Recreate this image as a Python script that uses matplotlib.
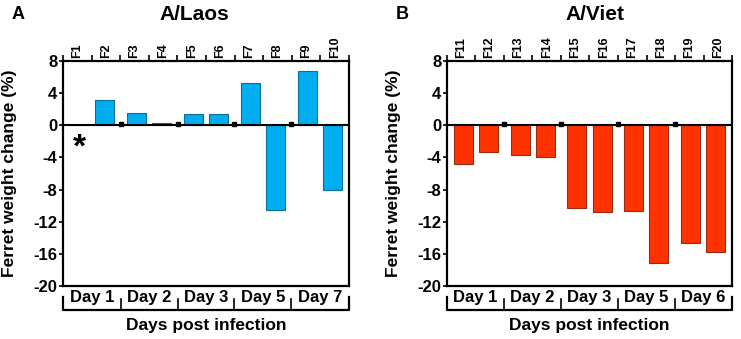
import numpy as np
import matplotlib
matplotlib.use('Agg')
import matplotlib.pyplot as plt
import matplotlib.transforms as mtrans

plt.rcParams['font.family'] = ['Liberation Sans', 'DejaVu Sans']
plt.rcParams['font.weight'] = 'bold'

laos_ferrets = ['F1', 'F2', 'F3', 'F4', 'F5', 'F6', 'F7', 'F8', 'F9', 'F10']
laos_change = [0.0, 3.1, 1.55, 0.3, 1.45, 1.4, 5.3, -10.5, 6.7, -8.0]
laos_days = ['Day 1', 'Day 2', 'Day 3', 'Day 5', 'Day 7']

viet_ferrets = ['F11', 'F12', 'F13', 'F14', 'F15', 'F16', 'F17', 'F18', 'F19', 'F20']
viet_change = [-4.75, -3.3, -3.75, -4.0, -10.3, -10.8, -10.7, -17.1, -14.6, -15.75]
viet_days = ['Day 1', 'Day 2', 'Day 3', 'Day 5', 'Day 6']

yticks = [8, 4, 0, -4, -8, -12, -16, -20]

fig = plt.figure(figsize=(7.41, 3.39), dpi=100)
axA = fig.add_axes([0.085, 0.156, 0.386, 0.664])
axB = fig.add_axes([0.603, 0.156, 0.385, 0.664])

pair_step = 2.25


def draw_panel(ax, names, values, days, color, edge, letter, title, title_x):
    n = len(values)
    pos = np.array([pair_step * (i // 2) + (i % 2) for i in range(n)])
    lo, hi = pos[0] - 0.65, pos[-1] + 0.65
    ax.bar(pos, values, width=0.75, color=color, edgecolor=edge, linewidth=0.8, zorder=2)
    # small dots on the zero line between days
    gaps = pos[1:-1:2] + (pair_step - 1) / 2
    ax.plot(gaps, np.zeros_like(gaps) + 0.15, 's', color='black', ms=2.5, zorder=3)
    ax.axhline(0, color='black', lw=1.5, zorder=3)
    ax.set_xlim(lo, hi)
    ax.set_ylim(-20, 8)
    ax.set_yticks(yticks)
    ax.set_yticklabels([str(t) for t in yticks], fontsize=12, fontweight='bold')
    ax.tick_params(axis='y', length=3, width=1.2, pad=1)
    ax.set_xticks([])
    for s in ax.spines.values():
        s.set_linewidth(1.6)
    ax.set_ylabel('Ferret weight change (%)', fontsize=12.5, fontweight='bold', labelpad=4)
    ax.yaxis.set_label_coords(-0.16, 0.5)

    # top axis: evenly spaced animal labels
    top = ax.twiny()
    top.set_xlim(0, n)
    top.set_xticks(np.arange(n + 1))
    top.set_xticklabels([])
    top.set_xticks(np.arange(n) + 0.5, minor=True)
    top.set_xticklabels(names, minor=True, rotation=90, fontsize=9, fontweight='bold')
    top.tick_params(axis='x', which='major', length=4, width=1.2)
    top.tick_params(axis='x', which='minor', length=0, pad=2)
    for s in top.spines.values():
        s.set_visible(False)

    # bottom day brackets
    tr = mtrans.blended_transform_factory(ax.transData, ax.transAxes)
    bounds = np.concatenate([[lo], gaps, [hi]])
    for k, d in enumerate(days):
        ax.text((bounds[k] + bounds[k + 1]) / 2, -0.05, d, transform=tr, ha='center',
                va='center', fontsize=12, fontweight='bold')
    for b in bounds[1:-1]:
        ax.plot([b, b], [-0.058, -0.105], transform=tr, color='black', lw=1.2, clip_on=False)
    ax.plot([lo, lo, hi, hi], [-0.05, -0.107, -0.107, -0.05], transform=tr, color='black',
            lw=1.6, clip_on=False)
    ax.text(0.5, -0.175, 'Days post infection', transform=ax.transAxes, ha='center',
            va='center', fontsize=12.5, fontweight='bold')
    ax.text(title_x, 1.205, title, transform=ax.transAxes, ha='center', va='center',
            fontsize=15, fontweight='bold')
    ax.text(-0.157, 1.205, letter, transform=ax.transAxes, ha='center', va='center',
            fontsize=13, fontweight='bold')
    return pos


posA = draw_panel(axA, laos_ferrets, laos_change, laos_days, '#00AEEF', '#0A6E9A', 'A', 'A/Laos', 0.46)
axA.text(posA[0], -2.8, '*', ha='center', va='center', fontsize=24, fontweight='bold')
draw_panel(axB, viet_ferrets, viet_change, viet_days, '#FF3300', '#9A2A10', 'B', 'A/Viet', 0.52)

plt.savefig('out.png', dpi=100)
print('saved out.png')
